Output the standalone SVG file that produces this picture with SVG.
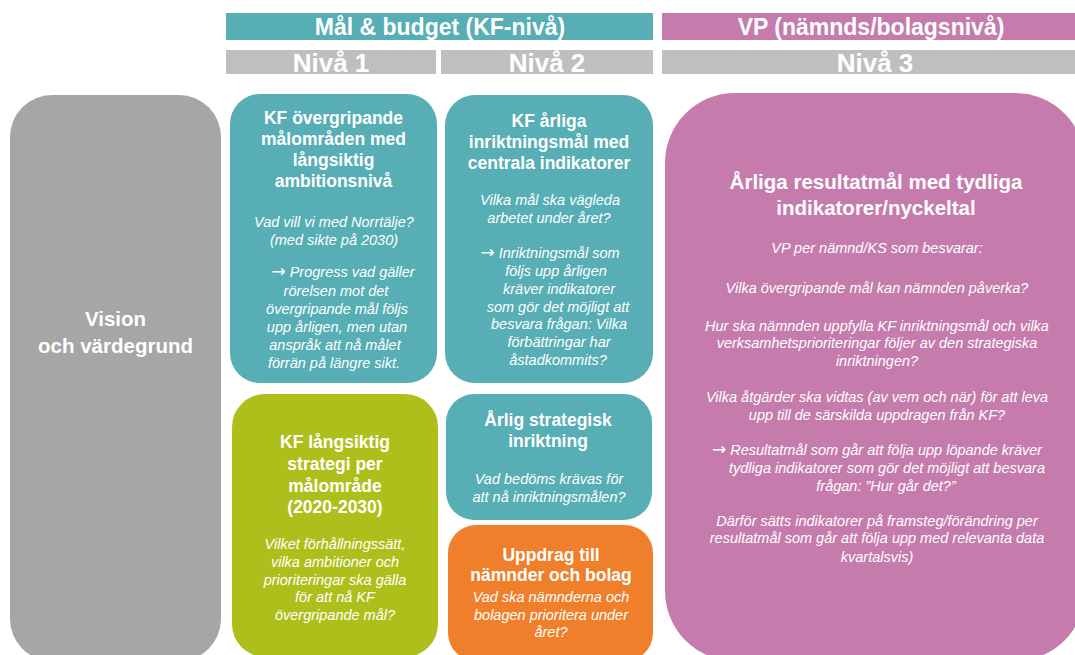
<svg xmlns="http://www.w3.org/2000/svg" width="1075" height="655" viewBox="0 0 1075 655">
<style>
text{font-family:"Liberation Sans",Arial,sans-serif;fill:#ffffff;text-anchor:middle}
.hd{font-size:23px;font-weight:bold}
.nv{font-size:26px;font-weight:bold}
.t{font-size:17.5px;font-weight:bold}
.tl{font-size:20.5px;font-weight:bold}
.i{font-size:14.5px;font-style:italic}
.ar{font-family:"DejaVu Sans",sans-serif;font-style:normal;font-size:17px}
.teal{fill:#57AEB5}
.pink{fill:#C57CAC}
.lg{fill:#BFBFBF}
</style>
<rect width="1075" height="655" fill="#ffffff"/>
<g id="headers">
<rect class="teal" x="226" y="13" width="427" height="27"/>
<text class="hd" x="440" y="35">Mål &amp; budget (KF-nivå)</text>
<rect class="pink" x="662" y="13" width="413" height="27"/>
<text class="hd" x="871" y="35">VP (nämnds/bolagsnivå)</text>
<rect class="lg" x="226" y="50" width="210" height="24"/>
<text class="nv" x="331" y="72">Nivå 1</text>
<rect class="lg" x="441" y="50" width="212" height="24"/>
<text class="nv" x="547" y="72">Nivå 2</text>
<rect class="lg" x="662" y="50" width="413" height="24"/>
<text class="nv" x="875" y="72">Nivå 3</text>
</g>
<g id="vision">
<rect x="10" y="95" width="211" height="566" rx="42" fill="#A6A6A6"/>
<text class="tl" x="115.5" y="326">Vision</text>
<text class="tl" x="115.5" y="353">och värdegrund</text>
</g>
<g id="box-overgripande">
<rect class="teal" x="230" y="94" width="207" height="289" rx="30"/>
<text class="t" x="333.5" y="124">KF övergripande</text>
<text class="t" x="333.5" y="145">målområden med</text>
<text class="t" x="333.5" y="166">långsiktig</text>
<text class="t" x="333.5" y="187">ambitionsnivå</text>
<text class="i" x="334" y="227">Vad vill vi med Norrtälje?</text>
<text class="i" x="334" y="245">(med sikte på 2030)</text>
<text class="i" x="343" y="277"><tspan class="ar">→</tspan> Progress vad gäller</text>
<text class="i" x="336" y="296">rörelsen mot det</text>
<text class="i" x="337" y="314">övergripande mål följs</text>
<text class="i" x="337" y="332">upp årligen, men utan</text>
<text class="i" x="335" y="350">anspråk att nå målet</text>
<text class="i" x="334" y="368">förrän på längre sikt.</text>
</g>
<g id="box-inriktningsmal">
<rect class="teal" x="445" y="95" width="208" height="288" rx="30"/>
<text class="t" x="549" y="127">KF årliga</text>
<text class="t" x="549" y="148">inriktningsmål med</text>
<text class="t" x="549" y="169">centrala indikatorer</text>
<text class="i" x="550" y="205">Vilka mål ska vägleda</text>
<text class="i" x="549" y="223">arbetet under året?</text>
<text class="i" x="550" y="258"><tspan class="ar">→</tspan>  Inriktningsmål som</text>
<text class="i" x="556" y="276">följs upp årligen</text>
<text class="i" x="559" y="294">kräver indikatorer</text>
<text class="i" x="558" y="312">som gör det möjligt att</text>
<text class="i" x="559" y="329">besvara frågan: Vilka</text>
<text class="i" x="559" y="347">förbättringar har</text>
<text class="i" x="558" y="365">åstadkommits?</text>
</g>
<g id="box-strategi">
<rect x="232" y="394" width="206" height="263" rx="33" fill="#AEBF1B"/>
<text class="t" x="335" y="448">KF långsiktig</text>
<text class="t" x="335" y="470">strategi per</text>
<text class="t" x="335" y="492">målområde</text>
<text class="t" x="335" y="513">(2020-2030)</text>
<text class="i" x="335" y="549">Vilket förhållningssätt,</text>
<text class="i" x="335" y="567">vilka ambitioner och</text>
<text class="i" x="335" y="585">prioriteringar ska gälla</text>
<text class="i" x="335" y="602">för att nå KF</text>
<text class="i" x="335" y="620">övergripande mål?</text>
</g>
<g id="box-strategisk-inriktning">
<rect class="teal" x="446" y="394" width="206" height="126" rx="28"/>
<text class="t" x="548" y="426">Årlig strategisk</text>
<text class="t" x="548" y="447">inriktning</text>
<text class="i" x="549" y="484">Vad bedöms krävas för</text>
<text class="i" x="549" y="502">att nå inriktningsmålen?</text>
</g>
<g id="box-uppdrag">
<rect x="448" y="525" width="205" height="136" rx="28" fill="#EF7F2A"/>
<text class="t" x="551" y="561">Uppdrag till</text>
<text class="t" x="551" y="581">nämnder och bolag</text>
<text class="i" x="551" y="602">Vad ska nämnderna och</text>
<text class="i" x="551" y="620">bolagen prioritera under</text>
<text class="i" x="551" y="637">året?</text>
</g>
<g id="box-resultatmal">
<rect class="pink" x="665" y="93" width="420" height="568" rx="70"/>
<text class="tl" x="876" y="189">Årliga resultatmål med tydliga</text>
<text class="tl" x="876" y="215">indikatorer/nyckeltal</text>
<text class="i" x="877" y="253">VP per nämnd/KS som besvarar:</text>
<text class="i" x="877" y="293">Vilka övergripande mål kan nämnden påverka?</text>
<text class="i" x="877" y="331">Hur ska nämnden uppfylla KF inriktningsmål och vilka</text>
<text class="i" x="877" y="348">verksamhetsprioriteringar följer av den strategiska</text>
<text class="i" x="877" y="366">inriktningen?</text>
<text class="i" x="877" y="402">Vilka åtgärder ska vidtas (av vem och när) för att leva</text>
<text class="i" x="877" y="420">upp till de särskilda uppdragen från KF?</text>
<text class="i" x="877" y="455"><tspan class="ar">→</tspan>  Resultatmål som går att följa upp löpande kräver</text>
<text class="i" x="887" y="473">tydliga indikatorer som gör det möjligt att besvara</text>
<text class="i" x="886" y="491">frågan: ”Hur går det?”</text>
<text class="i" x="877" y="526">Därför sätts indikatorer på framsteg/förändring per</text>
<text class="i" x="877" y="543">resultatmål som går att följa upp med relevanta data</text>
<text class="i" x="877" y="562">kvartalsvis)</text>
</g>
<g id="connectors"/>
</svg>
